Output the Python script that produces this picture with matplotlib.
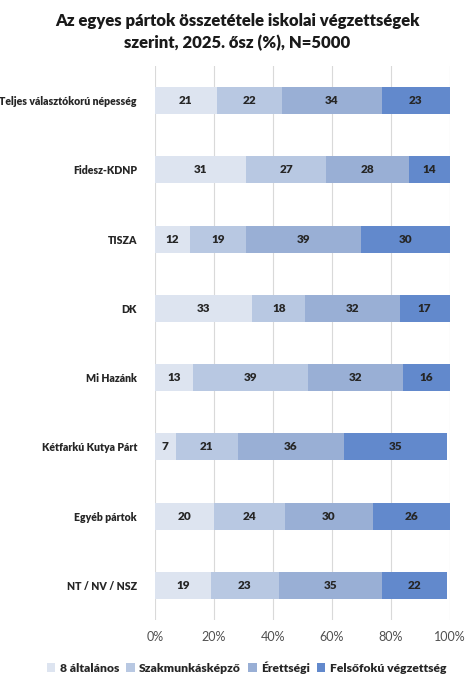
import numpy as np
import matplotlib.pyplot as plt

plt.rcParams['font.family'] = ['Lato', 'DejaVu Sans']

categories = ['Teljes választókorú népesség', 'Fidesz-KDNP', 'TISZA', 'DK',
              'Mi Hazánk', 'Kétfarkú Kutya Párt', 'Egyéb pártok', 'NT / NV / NSZ']
series_names = ['8 általános', 'Szakmunkásképző', 'Érettségi', 'Felsőfokú végzettség']
altalanos = [21, 31, 12, 33, 13, 7, 20, 19]
szakmunkas = [22, 27, 19, 18, 39, 21, 24, 23]
erettsegi = [34, 28, 39, 32, 32, 36, 30, 35]
felsofoku = [23, 14, 30, 17, 16, 35, 26, 22]
colors = ['#dde4f0', '#b8c8e2', '#99afd5', '#6289cc']

fig = plt.figure(figsize=(4.74, 6.84), dpi=100)
ax = fig.add_axes([0.327, 0.0936, 0.622, 0.81])

y = np.arange(len(categories))
left = np.zeros(len(categories))
for name, vals, c in zip(series_names, [altalanos, szakmunkas, erettsegi, felsofoku], colors):
    vals = np.array(vals, dtype=float)
    ax.barh(y, vals, left=left, height=0.39, color=c, label=name, zorder=2)
    for yi, l, v in zip(y, left, vals):
        ax.text(l + v / 2, yi, f'{int(v)}', ha='center', va='center',
                fontsize=8.5, fontweight='heavy', color='#262626', zorder=3)
    left += vals

ax.set_xlim(0, 100)
ax.set_ylim(len(categories) - 0.5, -0.5)
ax.set_yticks(y)
ax.set_yticklabels(categories, fontsize=7.6, fontweight='heavy', color='#262626')
ax.set_xticks(np.arange(0, 101, 20))
ax.set_xticklabels([f'{v}%' for v in range(0, 101, 20)], fontsize=9, color='#505050')
ax.tick_params(length=0, axis='y', pad=13)
ax.tick_params(length=0, axis='x', pad=8)
ax.grid(axis='x', color='#d9d9d9', linewidth=0.8, zorder=0)
for s in ax.spines.values():
    s.set_visible(False)

fig.text(0.5, 0.953, 'Az egyes pártok összetétele iskolai végzettségek\nszerint, 2025. ősz (%), N=5000',
         ha='center', va='center', fontsize=12, fontweight='heavy', color='#1a1a1a', linespacing=1.45)

leg = fig.legend(loc='center', bbox_to_anchor=(0.52, 0.024), ncol=4, frameon=False,
                 handlelength=0.7, handleheight=0.7, handletextpad=0.35, columnspacing=0.6,
                 prop={'size': 8.7, 'weight': 'heavy'})
for t in leg.get_texts():
    t.set_color('#262626')

fig.savefig('out.png', dpi=100)
